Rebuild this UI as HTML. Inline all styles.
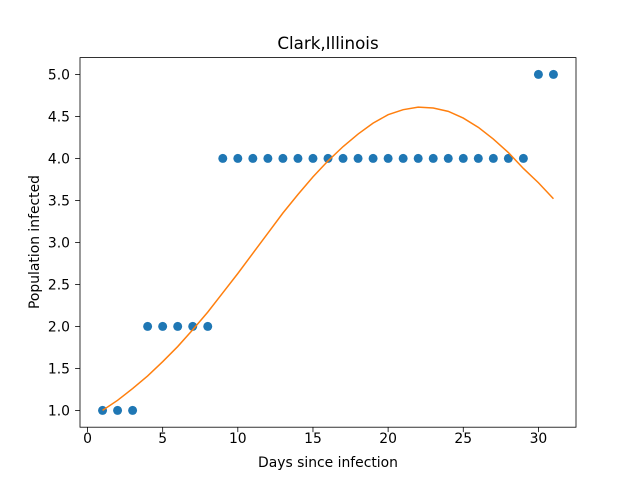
<!DOCTYPE html>
<html><head><meta charset="utf-8"><style>
body{margin:0;background:#fff}
svg{display:block;font-family:"DejaVu Sans","Liberation Sans",sans-serif}
</style></head><body>
<svg id="chart" width="640" height="480" xmlns="http://www.w3.org/2000/svg">
<rect width="640" height="480" fill="#fff"/>
<text x="328" y="49" text-anchor="middle" font-size="16.7">Clark,Illinois</text>
<g id="grid"></g>
<g id="marks"></g>
<rect x="80" y="57.6" width="496" height="369.6" fill="none" stroke="#000" stroke-width="0.8"/>
<text x="328" y="467" text-anchor="middle" font-size="13.9">Days since infection</text>
<text transform="translate(39,242) rotate(-90)" text-anchor="middle" font-size="13.9">Population infected</text>
</svg>
<script>
const days=[1,2,3,4,5,6,7,8,9,10,11,12,13,14,15,16,17,18,19,20,21,22,23,24,25,26,27,28,29,30,31];
const infected=[1,1,1,2,2,2,2,2,4,4,4,4,4,4,4,4,4,4,4,4,4,4,4,4,4,4,4,4,4,5,5];
const fitted=[1.00,1.12,1.26,1.41,1.58,1.76,1.96,2.17,2.40,2.63,2.87,3.11,3.35,3.57,3.78,3.97,4.14,4.29,4.42,4.52,4.58,4.61,4.60,4.56,4.48,4.37,4.23,4.07,3.88,3.71,3.52];
const xTicks=[0,5,10,15,20,25,30];
const yTicks=[1.0,1.5,2.0,2.5,3.0,3.5,4.0,4.5,5.0];
const L=80,R=576,T=57.6,B=427.2,x0=-0.5,x1=32.5,y0=0.8,y1=5.2;
const X=v=>L+(v-x0)/(x1-x0)*(R-L);
const Y=v=>B-(v-y0)/(y1-y0)*(B-T);
const NS="http://www.w3.org/2000/svg";
const g=document.getElementById('grid'),m=document.getElementById('marks');
function mk(t,a,p){const e=document.createElementNS(NS,t);for(const k in a)e.setAttribute(k,a[k]);p.appendChild(e);return e;}
xTicks.forEach(v=>{
  const l=mk('line',{x1:X(v),x2:X(v),y1:B,y2:B+4.9,stroke:'#000','stroke-width':0.8},g);
  
  
  const t=mk('text',{x:X(v),y:443,'text-anchor':'middle','font-size':13.9},g);t.textContent=v;
  
  
});
yTicks.forEach(v=>{
  const l=mk('line',{x1:L-4.9,x2:L,y1:Y(v),y2:Y(v),stroke:'#000','stroke-width':0.8},g);
  
  
  const t=mk('text',{x:L-10,y:Y(v)+5,'text-anchor':'end','font-size':13.9},g);t.textContent=v.toFixed(1);
  
  
});
days.forEach((d,i)=>{
  const c=mk('circle',{cx:X(d),cy:Y(infected[i]),r:4.5,fill:'#1f77b4'},m);
  
  
});
const p=mk('polyline',{points:days.map((d,i)=>X(d)+','+Y(fitted[i])).join(' '),fill:'none',stroke:'#ff7f0e','stroke-width':1.5},m);


</script>
</body></html>
